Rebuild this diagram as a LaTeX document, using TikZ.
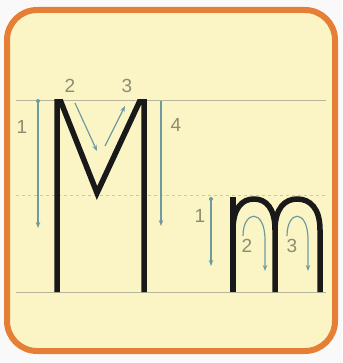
\documentclass[tikz,border=0pt]{standalone}
\usepackage{fontspec}
\setmainfont{Liberation Sans}
\usetikzlibrary{arrows.meta}
\definecolor{paper}{HTML}{FBF5C6}
\definecolor{frame}{HTML}{E57F35}
\definecolor{guide}{HTML}{B8B49A}
\definecolor{arrowc}{HTML}{6E9C9E}
\definecolor{numc}{HTML}{8C8C6E}
\tikzset{
  letter/.style={line width=5.5pt, color=black!90, line cap=butt, line join=miter},
  strokearrow/.style={arrowc, line width=1.2pt, -{Stealth[length=6pt,width=4.5pt]}},
  startdot/.style={circle, fill=arrowc, inner sep=0pt, minimum size=4pt},
  num/.style={text=numc, font=\fontsize{19}{19}\selectfont, inner sep=0pt},
  guideline/.style={guide, line width=0.6pt}
}
\begin{document}
\begin{tikzpicture}[x=1pt,y=-1pt]
\useasboundingbox (0,0) rectangle (342,363);
\fill[white!95!gray] (0,0) rectangle (342,363);
\draw[frame, line width=6pt, fill=paper, rounded corners=30pt] (7,10) rectangle (335,351);
% guide lines
\draw[guideline] (16,100) -- (326,100);
\draw[guideline, dashed, color=guide!60!yellow] (16,195) -- (326,195);
\draw[guideline] (16,292) -- (326,292);
% M
\begin{scope}
\clip (40,100) rectangle (170,292);
\draw[letter] (57,292) -- (57,92) -- (97,193) -- (144,92) -- (144,292);
\end{scope}
% m
\draw[letter] (233,292) -- (233,197);
\draw[letter] (233,230) .. controls (233,208) and (242,199) .. (254,199) .. controls (266,199) and (275,208) .. (275,230) -- (275,292);
\draw[letter] (275,230) .. controls (275,208) and (285,199) .. (297,199) .. controls (310,199) and (320,208) .. (320,230) -- (320,292);
% M arrows
\coordinate (a1s) at (38,101); \coordinate (a1e) at (38,228);
\node[startdot] (d1) at (a1s) {};
\draw[strokearrow] (d1.center) -- (a1e);
\node[num] (n1) at (22,127) {1};
\coordinate (a2s) at (75,103); \coordinate (a2e) at (97,151);
\draw[strokearrow] (a2s) -- (a2e);
\node[num] (n2) at (70,86) {2};
\coordinate (a3s) at (105,146); \coordinate (a3e) at (125,106);
\draw[strokearrow] (a3s) -- (a3e);
\node[num] (n3) at (127,86) {3};
\coordinate (a4s) at (161,101); \coordinate (a4e) at (161,226);
\draw[strokearrow] (a4s) -- (a4e);
\node[num] (n4) at (176,125) {4};
% m arrows
\coordinate (b1s) at (211,199); \coordinate (b1e) at (211,266);
\node[startdot] (d2) at (b1s) {};
\draw[strokearrow] (d2.center) -- (b1e);
\node[num] (m1) at (200,216) {1};
\coordinate (b2s) at (243,236); \coordinate (b2e) at (265,271);
\draw[strokearrow] (b2s) .. controls (243,210) and (265,208) .. (265,240) -- (b2e);
\node[num] (m2) at (247,246) {2};
\coordinate (b3s) at (287,236); \coordinate (b3e) at (308,271);
\draw[strokearrow] (b3s) .. controls (287,210) and (308,208) .. (308,240) -- (b3e);
\node[num] (m3) at (292,246) {3};
\end{tikzpicture}
\end{document}
